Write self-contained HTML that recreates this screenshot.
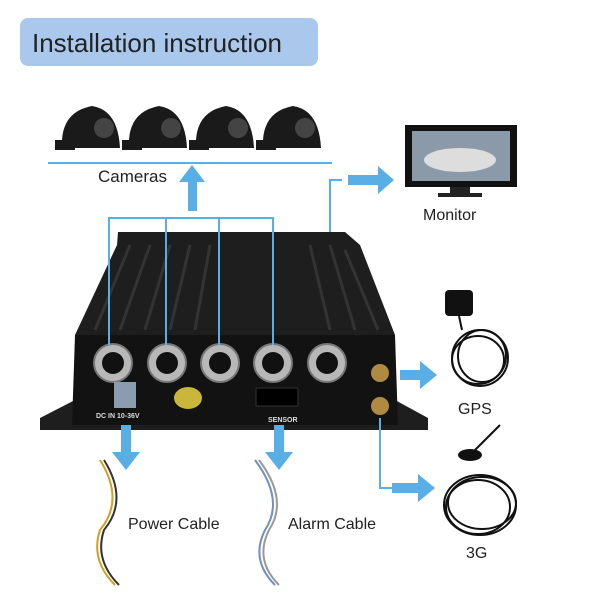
<!DOCTYPE html>
<html><head><meta charset="utf-8"><style>
body{margin:0;background:#fff;}
svg{display:block}
text{font-family:"Liberation Sans",sans-serif;}
</style></head><body>
<svg width="600" height="600" viewBox="0 0 600 600">
<rect width="600" height="600" fill="#fff"/>
<rect x="20" y="18" width="298" height="48" rx="8" fill="#aac8ec"/>
<text x="32" y="52" font-size="26" fill="#222">Installation instruction</text>
<g fill="#1a1a1a">
<path d="M62 148 Q60 112 92 106 Q118 110 120 148 Z"/>
<path d="M129 148 Q127 112 159 106 Q185 110 187 148 Z"/>
<path d="M196 148 Q194 112 226 106 Q252 110 254 148 Z"/>
<path d="M263 148 Q261 112 293 106 Q319 110 321 148 Z"/>
<rect x="55" y="140" width="20" height="10"/><rect x="122" y="140" width="20" height="10"/><rect x="189" y="140" width="20" height="10"/><rect x="256" y="140" width="20" height="10"/>
</g>
<g fill="#444"><circle cx="104" cy="128" r="10"/><circle cx="171" cy="128" r="10"/><circle cx="238" cy="128" r="10"/><circle cx="305" cy="128" r="10"/></g>
<line x1="48" y1="163" x2="332" y2="163" stroke="#5aaee6" stroke-width="2"/>
<text x="98" y="182" font-size="17" fill="#222">Cameras</text>
<polygon points="188,211 197,211 197,182 205,182 192,165 179,182 188,182" fill="#5aaee6"/>
<rect x="405" y="125" width="112" height="62" fill="#111"/>
<rect x="412" y="131" width="98" height="50" fill="#8a9aa8"/>
<ellipse cx="460" cy="160" rx="36" ry="12" fill="#ddd"/>
<rect x="450" y="187" width="20" height="8" fill="#222"/>
<rect x="438" y="193" width="44" height="4" fill="#222"/>
<text x="423" y="220" font-size="16" fill="#222">Monitor</text>
<polyline points="330,345 330,180 342,180" fill="none" stroke="#5aaee6" stroke-width="2"/>
<polygon points="348,175 378,175 378,166 394,180 378,194 378,185 348,185" fill="#5aaee6"/>
<polygon points="40,418 75,400 75,335 117,245 118,232 345,232 360,245 395,335 395,400 428,418 428,430 40,430" fill="#1e1e1e"/>
<polygon points="75,335 395,335 398,425 72,425" fill="#121212"/>
<g stroke="#333" stroke-width="3">
<line x1="130" y1="245" x2="95" y2="330"/><line x1="150" y1="245" x2="120" y2="330"/><line x1="170" y1="245" x2="145" y2="330"/>
<line x1="190" y1="245" x2="170" y2="330"/><line x1="210" y1="245" x2="195" y2="330"/>
<line x1="310" y1="245" x2="330" y2="330"/><line x1="330" y1="245" x2="355" y2="330"/><line x1="345" y1="250" x2="378" y2="330"/>
</g>
<g fill="#b8b8b8" stroke="#777" stroke-width="2">
<circle cx="113" cy="363" r="19"/><circle cx="167" cy="363" r="19"/><circle cx="220" cy="363" r="19"/><circle cx="273" cy="363" r="19"/><circle cx="327" cy="363" r="19"/>
</g>
<g fill="#111"><circle cx="113" cy="363" r="11"/><circle cx="167" cy="363" r="11"/><circle cx="220" cy="363" r="11"/><circle cx="273" cy="363" r="11"/><circle cx="327" cy="363" r="11"/></g>
<rect x="114" y="382" width="22" height="26" fill="#8a9cb0"/>
<ellipse cx="188" cy="398" rx="14" ry="11" fill="#c9b63a"/>
<rect x="256" y="388" width="42" height="18" fill="#000" stroke="#333"/>
<circle cx="380" cy="373" r="9" fill="#b08a40"/><circle cx="380" cy="406" r="9" fill="#b08a40"/>
<text x="96" y="418" font-size="7" fill="#ddd" font-weight="bold">DC IN 10-36V</text>
<text x="268" y="422" font-size="7" fill="#ddd" font-weight="bold">SENSOR</text>
<g fill="none" stroke="#5aaee6" stroke-width="2">
<polyline points="109,345 109,218 273,218 273,345"/>
<line x1="166" y1="218" x2="166" y2="345"/><line x1="219" y1="218" x2="219" y2="345"/>
<polyline points="380,418 380,488 392,488"/>
</g>
<rect x="445" y="290" width="28" height="26" rx="4" fill="#111"/>
<g fill="none" stroke="#111" stroke-width="2">
<line x1="459" y1="316" x2="462" y2="330"/>
<ellipse cx="480" cy="358" rx="28" ry="28"/><ellipse cx="482" cy="356" rx="24" ry="26"/><ellipse cx="478" cy="360" rx="26" ry="24"/>
</g>
<text x="458" y="414" font-size="16" fill="#222">GPS</text>
<polygon points="400,370 420,370 420,361 437,375 420,389 420,380 400,380" fill="#5aaee6"/>
<ellipse cx="470" cy="455" rx="12" ry="6" fill="#111"/>
<line x1="470" y1="455" x2="500" y2="425" stroke="#111" stroke-width="2"/>
<g fill="none" stroke="#111" stroke-width="2">
<ellipse cx="480" cy="505" rx="36" ry="30"/><ellipse cx="478" cy="507" rx="32" ry="27"/><ellipse cx="482" cy="503" rx="34" ry="26"/>
</g>
<text x="466" y="558" font-size="16" fill="#222">3G</text>
<polygon points="392,483 418,483 418,474 435,488 418,502 418,493 392,493" fill="#5aaee6"/>
<polygon points="121,425 131,425 131,452 140,452 126,470 112,452 121,452" fill="#5aaee6"/>
<polygon points="274,425 284,425 284,452 293,452 279,470 265,452 274,452" fill="#5aaee6"/>
<g fill="none" stroke-width="2">
<path d="M100 460 Q125 500 100 530 Q90 560 115 585" stroke="#d4a020"/>
<path d="M104 460 Q129 500 104 530 Q94 560 119 585" stroke="#333"/>
<path d="M255 460 Q285 500 265 530 Q250 560 275 585" stroke="#7090c0"/>
<path d="M259 460 Q289 500 269 530 Q254 560 279 585" stroke="#999"/>
</g>
<text x="128" y="529" font-size="16" fill="#222">Power Cable</text>
<text x="288" y="529" font-size="16" fill="#222">Alarm Cable</text>
</svg>
</body></html>
